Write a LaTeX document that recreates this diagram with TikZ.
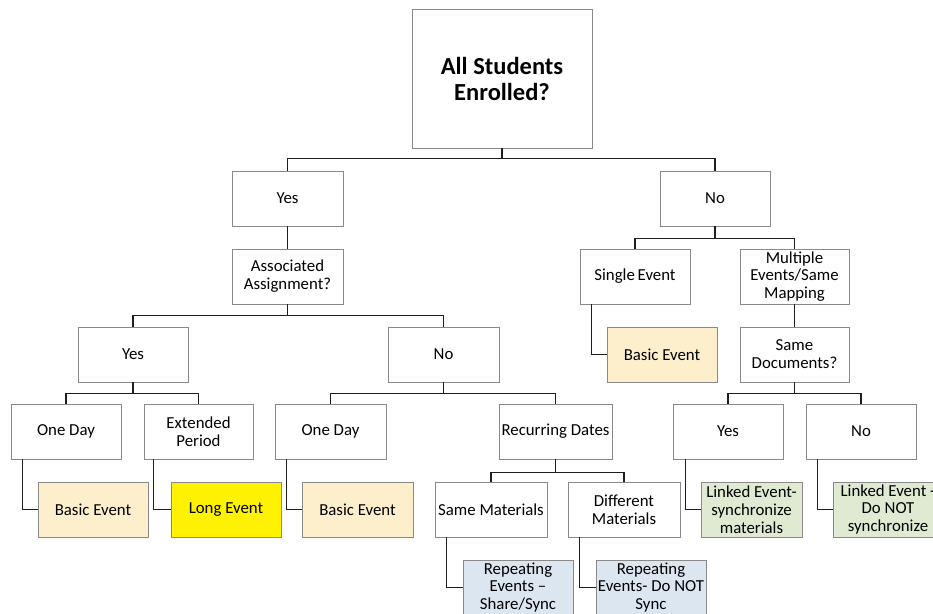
\documentclass[tikz,border=0pt]{standalone}
\usepackage{fontspec}
\setmainfont{Carlito}
\definecolor{tanfill}{HTML}{FDEFCB}
\definecolor{bluefill}{HTML}{DCE6F1}
\definecolor{greenfill}{HTML}{E0EAD3}
\definecolor{boxline}{HTML}{8A8A8A}
\definecolor{conn}{HTML}{1E1E1E}
\tikzset{
  box/.style={draw=boxline, line width=0.9pt, fill=white, align=center, inner sep=1pt,
    font=\fontsize{16.8}{17.8}\selectfont},
  rootbox/.style={box, font=\fontsize{24.5}{26}\selectfont\bfseries},
  tanbox/.style={box, fill=tanfill},
  yelbox/.style={box, fill=yellow},
  bluebox/.style={box, fill=bluefill},
  greenbox/.style={box, fill=greenfill},
  link/.style={draw=conn, line width=1.3pt},
}
\newcommand{\bx}[6]{\node[#1, minimum width=#4pt, minimum height=#5pt] (#2) at (#3) {#6};}
\begin{document}
\begin{tikzpicture}[x=1pt,y=-1pt]
\clip (0,0) rectangle (933,613);
\fill[white] (0,0) rectangle (933,613);
% nodes
\bx{rootbox}{root}{502,78.5}{180}{139}{All Students\\Enrolled?}
\bx{box}{yes1}{287.5,198.5}{111}{55}{Yes}
\bx{box}{aa}{287.5,276.5}{111}{55}{Associated\\Assignment?}
\bx{box}{no1}{715,198.5}{110}{55}{No}
\bx{box}{yes2}{133,354.5}{110}{55}{Yes}
\bx{box}{no2}{443.5,354.5}{111}{55}{No}
\bx{box}{single}{635,276.5}{110}{55}{Single\,Event}
\bx{box}{multi}{794.5,276.5}{109}{55}{Multiple\\Events/Same\\Mapping}
\bx{tanbox}{basicR}{662,354.5}{110}{55}{Basic Event}
\bx{box}{samedoc}{794.5,354.5}{109}{55}{Same\\Documents?}
\bx{box}{oneday1}{66,431.5}{110}{55}{One Day}
\bx{box}{ext}{198.5,431.5}{109}{55}{Extended\\Period}
\bx{box}{oneday2}{330.5,431.5}{111}{55}{One Day}
\bx{box}{recur}{555.5,431.5}{113}{55}{Recurring Dates}
\bx{box}{yes3}{728,431.5}{110}{55}{Yes}
\bx{box}{no3}{861,431.5}{110}{55}{No}
\bx{tanbox}{basic1}{93,509.5}{110}{55}{Basic Event}
\bx{yelbox}{long}{226,509.5}{110}{55}{Long Event}
\bx{tanbox}{basic2}{357.5,509.5}{111}{55}{Basic Event}
\bx{box}{same}{491,509.5}{112}{55}{Same Materials}
\bx{box}{diff}{624,509.5}{112}{55}{Different\\Materials}
\bx{greenbox}{linked1}{751.5,509.5}{101}{55}{Linked Event-\\synchronize\\materials}
\bx{greenbox}{linked2}{888,509.5}{110}{55}{Linked Event -\\Do NOT\\synchronize}
\bx{bluebox}{rep1}{518,587.5}{110}{55}{Repeating\\Events –\\Share/Sync}
\bx{bluebox}{rep2}{651,587.5}{110}{55}{Repeating\\Events- Do NOT\\Sync}
% tree connectors
\draw[link] (root.south) -- ++(0,10) -| (yes1.north);
\draw[link] (root.south) -- ++(0,10) -| (no1.north);
\draw[link] (yes1.south) -- (aa.north);
\draw[link] (aa.south) -- ++(0,11) -| (yes2.north);
\draw[link] (aa.south) -- ++(0,11) -| (no2.north);
\draw[link] (no1.south) -- ++(0,12) -| (single.north);
\draw[link] (no1.south) -- ++(0,12) -| (multi.north);
\draw[link] (multi.south) -- (samedoc.north);
\draw[link] (yes2.south) -- ++(0,11) -| (oneday1.north);
\draw[link] (yes2.south) -- ++(0,11) -| (ext.north);
\draw[link] (no2.south) -- ++(0,11) -| (oneday2.north);
\draw[link] (no2.south) -- ++(0,11) -| (recur.north);
\draw[link] (samedoc.south) -- ++(0,11) -| (yes3.north);
\draw[link] (samedoc.south) -- ++(0,11) -| (no3.north);
\draw[link] (recur.south) -- ++(0,13) -| (same.north);
\draw[link] (recur.south) -- ++(0,13) -| (diff.north);
% elbow connectors
\draw[link] ([xshift=12pt]single.south west) |- (basicR.west);
\draw[link] ([xshift=12pt]oneday1.south west) |- (basic1.west);
\draw[link] ([xshift=10pt]ext.south west) |- (long.west);
\draw[link] ([xshift=12pt]oneday2.south west) |- (basic2.west);
\draw[link] ([xshift=12pt]same.south west) |- (rep1.west);
\draw[link] ([xshift=12pt]diff.south west) |- (rep2.west);
\draw[link] ([xshift=13pt]yes3.south west) |- (linked1.west);
\draw[link] ([xshift=12pt]no3.south west) |- (linked2.west);
\end{tikzpicture}
\end{document}
